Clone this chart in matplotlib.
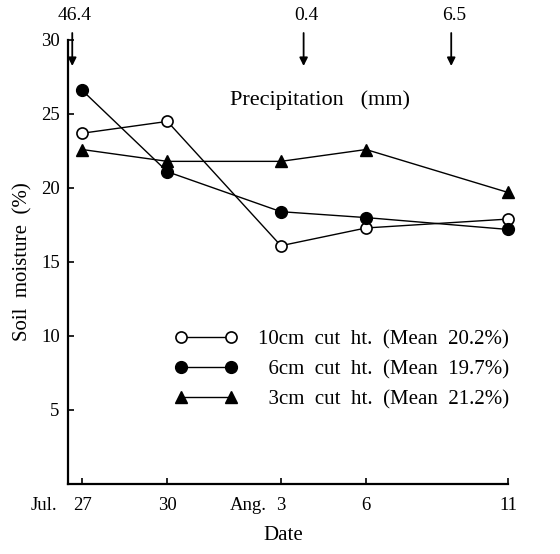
import matplotlib
matplotlib.use("Agg")
import matplotlib.pyplot as plt
from matplotlib.transforms import offset_copy

plt.rcParams["font.family"] = ["Liberation Serif", "DejaVu Serif"]

# Sampling dates as days after Jul. 27
days = [0, 3, 7, 10, 15]
day_numbers = ["27", "30", "3", "6", "11"]
month_prefix = {0: "Jul.", 7: "Ang."}

# Soil moisture (%) per cutting height
cut10 = [23.7, 24.5, 16.1, 17.3, 17.9]
cut6 = [26.6, 21.1, 18.4, 18.0, 17.2]
cut3 = [22.6, 21.8, 21.8, 22.6, 19.7]
series_labels = ["10cm  cut  ht.  (Mean  20.2%)",
                 "  6cm  cut  ht.  (Mean  19.7%)",
                 "  3cm  cut  ht.  (Mean  21.2%)"]

# Rainfall events (day position, amount in mm)
precip_days = [-0.35, 7.8, 13.0]
precip_mm = ["46.4", "0.4", "6.5"]

W, H = 560, 554
fig = plt.figure(figsize=(W / 100, H / 100), dpi=100)
ax = fig.add_axes([68 / W, 1 - 484 / H, 440 / W, 444 / H])

line_kw = dict(color="black", lw=1.0, clip_on=False)
h1, = ax.plot(days, cut10, marker="o", ms=8, mfc="white", mec="black",
              mew=1.2, **line_kw)
h2, = ax.plot(days, cut6, marker="o", ms=8.5, mfc="black", mec="black",
              **line_kw)
h3, = ax.plot(days, cut3, marker="^", ms=9, mfc="black", mec="black",
              **line_kw)

ax.set_xlim(-0.5, 15)
ax.set_ylim(0, 30)
for s in ["top", "right"]:
    ax.spines[s].set_visible(False)
for s in ["left", "bottom"]:
    ax.spines[s].set_linewidth(1.6)

ax.set_yticks([5, 10, 15, 20, 25, 30])
ax.set_yticklabels(["5", "10", "15", "20", "25", "30"])
ax.set_xticks(days)
ax.set_xticklabels(day_numbers)
ax.tick_params(direction="in", length=4, width=1.2, labelsize=13.5,
               colors="black")
ax.tick_params(axis="x", pad=9)
ax.tick_params(axis="y", pad=6)

# Month names placed ahead of the first day of each month
for d, m in month_prefix.items():
    tr = offset_copy(ax.get_xaxis_transform(), fig=fig,
                     x=-18 if d == 0 else -10, y=-9, units="points")
    ax.text(d, 0, m, transform=tr, ha="right", va="top", fontsize=13.5)

ax.set_ylabel("Soil  moisture  (%)", fontsize=15)
ax.yaxis.set_label_coords(-0.08, 0.5)
ax.set_xlabel("Date", fontsize=15)
ax.xaxis.set_label_coords(0.49, -0.095)

ax.legend([h1, h2, h3], series_labels, numpoints=2, frameon=False,
          fontsize=15, handlelength=3.0, handletextpad=1.0,
          labelspacing=0.5, loc="upper left",
          bbox_to_anchor=(164 / W, 1 - 319 / H),
          bbox_transform=fig.transFigure, borderpad=0)

# Precipitation arrows above the plot
for d, mm in zip(precip_days, precip_mm):
    ax.annotate("", xy=(d, H - 66), xytext=(d, H - 33),
                xycoords=("data", "figure pixels"),
                textcoords=("data", "figure pixels"),
                arrowprops=dict(arrowstyle="-|>", color="black", lw=1.3,
                                mutation_scale=12, shrinkA=0, shrinkB=0),
                annotation_clip=False)
    ax.annotate(mm, xy=(d + 0.1, H - 16), xycoords=("data", "figure pixels"),
                ha="center", va="center", fontsize=14,
                annotation_clip=False)

fig.text(320 / W, 1 - 100 / H, "Precipitation   (mm)", ha="center",
         va="center", fontsize=16)

fig.savefig("out.png", dpi=100)
